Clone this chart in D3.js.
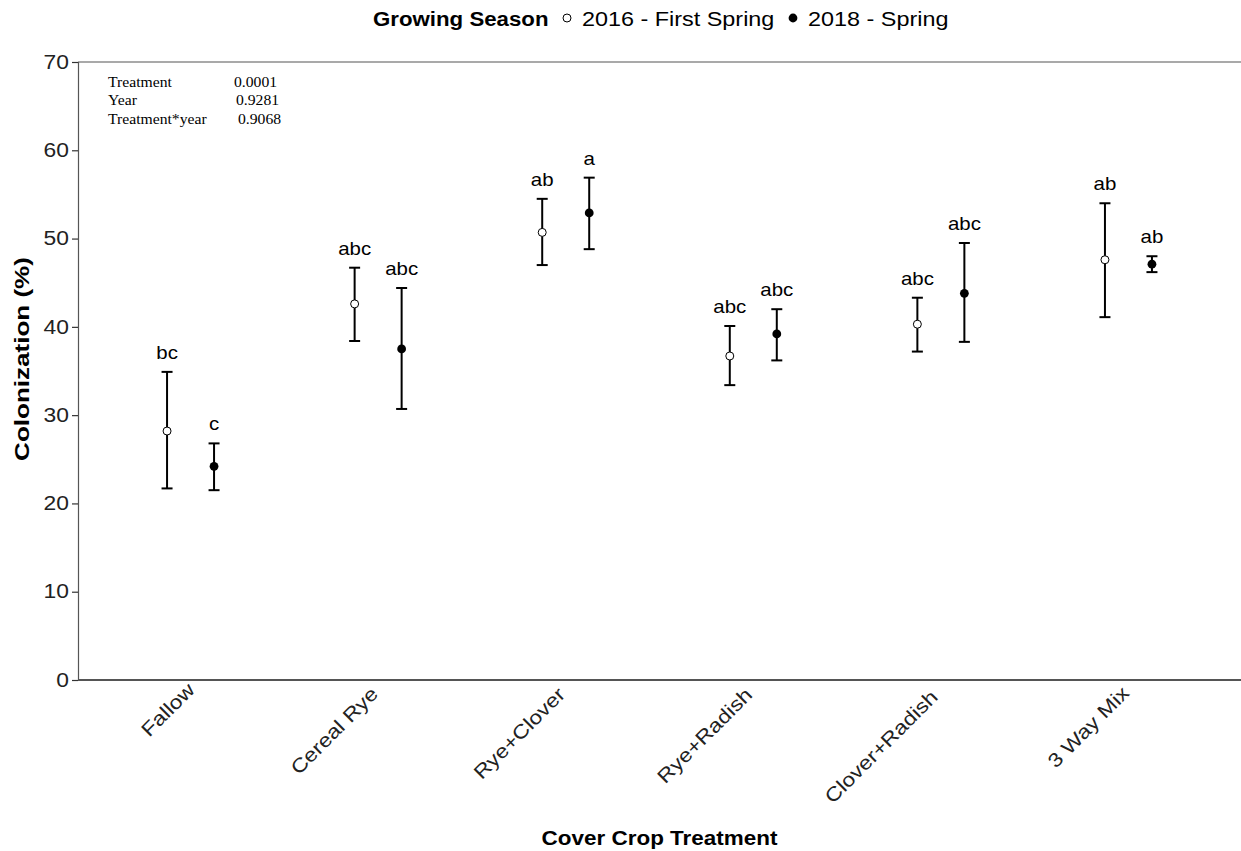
<!DOCTYPE html>
<html>
<head>
<meta charset="utf-8">
<script src="https://cdn.jsdelivr.net/npm/d3@7"></script>
<style>
  html, body { margin: 0; padding: 0; background: #fff; }
  svg { display: block; font-family: "Liberation Sans", Arial, sans-serif; }
</style>
</head>
<body>
<svg id="chart" width="1241" height="851"></svg>
<script>
const categories = ["Fallow", "Cereal Rye", "Rye+Clover", "Rye+Radish", "Clover+Radish", "3 Way Mix"];
const seasons = ["2016 - First Spring", "2018 - Spring"];

const mean2016  = [28.2, 42.6, 50.7, 36.7, 40.3, 47.6];
const upper2016 = [34.9, 46.7, 54.5, 40.1, 43.3, 54.0];
const lower2016 = [21.7, 38.4, 47.0, 33.4, 37.2, 41.1];
const letters2016 = ["bc", "abc", "ab", "abc", "abc", "ab"];

const mean2018  = [24.2, 37.5, 52.9, 39.2, 43.8, 47.1];
const upper2018 = [26.8, 44.4, 56.9, 42.0, 49.5, 48.0];
const lower2018 = [21.5, 30.7, 48.8, 36.2, 38.3, 46.2];
const letters2018 = ["c", "abc", "a", "abc", "abc", "ab"];

const yTicks = [0, 10, 20, 30, 40, 50, 60, 70];
const statNames = ["Treatment", "Year", "Treatment*year"];
const statValues = ["0.0001", "0.9281", "0.9068"];

const rows = [];
categories.forEach((c, i) => {
  rows.push({cat: c, season: seasons[0], mean: mean2016[i], lo: lower2016[i], hi: upper2016[i], letter: letters2016[i]});
  rows.push({cat: c, season: seasons[1], mean: mean2018[i], lo: lower2018[i], hi: upper2018[i], letter: letters2018[i]});
});

const svg = d3.select("#chart");
const pLeft = 78, pRight = 1241, pTop = 62, pBottom = 680;
const SX = 1.17; // horizontal glyph widening to match the reference rendering

const x = d3.scalePoint().domain(categories).range([pLeft, pRight]).padding(0.6);
const dodge = d3.scalePoint().domain(seasons).range([-23.5, 23.5]);
const y = d3.scaleLinear().domain([0, 70]).range([pBottom, pTop]);

const axisColor = "#555";

// top border line
svg.append("line").attr("x1", pLeft).attr("x2", pRight).attr("y1", pTop).attr("y2", pTop)
  .attr("stroke", axisColor).attr("stroke-width", 1.2);

// y axis
const yAxis = svg.append("g").attr("transform", `translate(${pLeft},0)`)
  .call(d3.axisLeft(y).tickValues(yTicks).tickSize(6).tickPadding(2));
yAxis.select(".domain").attr("stroke", axisColor).attr("stroke-width", 1.2);
yAxis.selectAll(".tick line").attr("stroke", "#333").attr("stroke-width", 1.2);
yAxis.selectAll(".tick text").attr("font-size", 19.5).attr("fill", "#222")
  .attr("font-family", "Liberation Sans, Arial, sans-serif")
  .attr("x", 0)
  .attr("transform", `translate(-9,0) scale(${SX},1)`);

// x axis
const xAxis = svg.append("g").attr("transform", `translate(0,${pBottom})`)
  .call(d3.axisBottom(x).tickSize(0).tickPadding(0));
xAxis.select(".domain").attr("stroke", axisColor).attr("stroke-width", 2.2)
  .attr("d", `M${pLeft},0H${pRight}`);
xAxis.selectAll(".tick text")
  .attr("font-size", 19.5).attr("fill", "#222")
  .attr("font-family", "Liberation Sans, Arial, sans-serif")
  .attr("text-anchor", "end")
  .attr("y", 0)
  .attr("dy", "0.72em")
  .attr("transform", `translate(-5,1) rotate(-45) scale(${SX},1)`)
  .each(function() {
    const L = this.getComputedTextLength();
    d3.select(this).attr("x", -0.12 * Math.max(0, L - 55));
  });

// error bars
const g = svg.append("g");
const cap = 5.5;
rows.forEach(d => {
  const cx = x(d.cat) + dodge(d.season);
  g.append("line").attr("x1", cx).attr("x2", cx).attr("y1", y(d.lo)).attr("y2", y(d.hi))
    .attr("stroke", "#000").attr("stroke-width", 2);
  [d.lo, d.hi].forEach(v => {
    g.append("line").attr("x1", cx - cap).attr("x2", cx + cap).attr("y1", y(v)).attr("y2", y(v))
      .attr("stroke", "#000").attr("stroke-width", 2);
  });
  if (d.season === seasons[0]) {
    g.append("circle").attr("cx", cx).attr("cy", y(d.mean)).attr("r", 4)
      .attr("fill", "#fff").attr("stroke", "#000").attr("stroke-width", 1);
  } else {
    g.append("circle").attr("cx", cx).attr("cy", y(d.mean)).attr("r", 4.4)
      .attr("fill", "#000");
  }
  g.append("text")
    .attr("transform", `translate(${cx},${y(d.hi) - 13}) scale(${SX},1)`)
    .attr("text-anchor", "middle").attr("font-size", 17.5).attr("fill", "#000")
    .text(d.letter);
});

// stats text
const st = svg.append("g").attr("font-family", "Liberation Serif, Times New Roman, serif")
  .attr("font-size", 14).attr("fill", "#000");
const valX = [234, 236, 238];
statNames.forEach((n, i) => {
  st.append("text").attr("transform", `translate(108,${87 + i * 18.3}) scale(1.12,1)`).text(n);
  st.append("text").attr("transform", `translate(${valX[i]},${87 + i * 18.3}) scale(1.12,1)`).text(statValues[i]);
});

// axis titles
svg.append("text").attr("transform", `translate(29,359) rotate(-90) scale(1.24,1)`)
  .attr("text-anchor", "middle").attr("font-size", 21).attr("font-weight", "bold")
  .text("Colonization (%)");
svg.append("text").attr("transform", `translate(${(pLeft + pRight) / 2},845) scale(1.07,1)`)
  .attr("text-anchor", "middle").attr("font-size", 21).attr("font-weight", "bold")
  .text("Cover Crop Treatment");

// legend
const lg = svg.append("g");
lg.append("text").attr("transform", "translate(373,26) scale(1.06,1)")
  .attr("font-size", 21).attr("font-weight", "bold")
  .text("Growing Season");
lg.append("circle").attr("cx", 567).attr("cy", 18).attr("r", 4).attr("fill", "#fff")
  .attr("stroke", "#000").attr("stroke-width", 1);
lg.append("text").attr("transform", `translate(582,26) scale(${SX},1)`).attr("font-size", 20).text(seasons[0]);
lg.append("circle").attr("cx", 793).attr("cy", 18).attr("r", 4.4).attr("fill", "#000");
lg.append("text").attr("transform", `translate(808,26) scale(${SX},1)`).attr("font-size", 20).text(seasons[1]);
</script>
</body>
</html>
